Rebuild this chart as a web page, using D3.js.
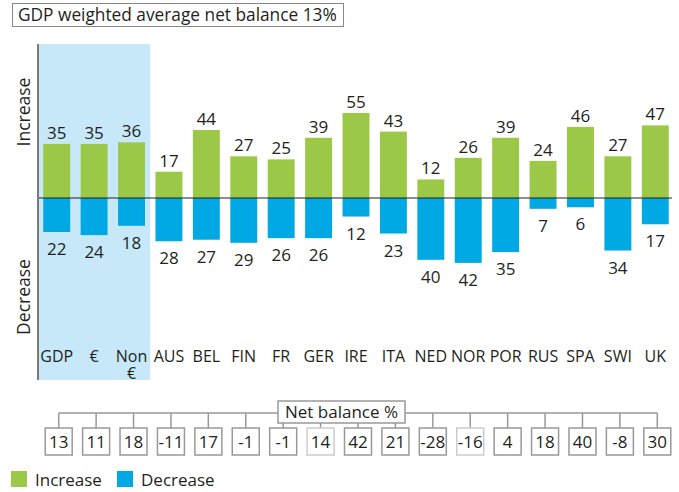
<!DOCTYPE html>
<html>
<head>
<meta charset="utf-8">
<script src="https://cdn.jsdelivr.net/npm/d3@7"></script>
<style>
  body { margin:0; background:white; }
  text { font-family: "Open Sans", sans-serif; fill:#231f20; }
</style>
</head>
<body>
<svg id="graph"></svg>
<script>
var categories = ["GDP","€","Non €","AUS","BEL","FIN","FR","GER","IRE","ITA","NED","NOR","POR","RUS","SPA","SWI","UK"];
var increase   = [35,35,36,17,44,27,25,39,55,43,12,26,39,24,46,27,47];
var decrease   = [22,24,18,28,27,29,26,26,12,23,40,42,35,7,6,34,17];
var netBalance = [13,11,18,-11,17,-1,-1,14,42,21,-28,-16,4,18,40,-8,30];
var titleText  = "GDP weighted average net balance 13%";
var shadedCategories = ["GDP","€","Non €"];

var drawChart = function(svgSelector)
{
  var screen = {width:679, height:492};
  var green = "#9bc947";
  var blue = "#00a8e4";

  var svg = d3.select(svgSelector)
              .attr("width", screen.width)
              .attr("height", screen.height);

  var xScale = d3.scaleBand()
                 .domain(categories)
                 .range([38, 674])
                 .paddingInner(0.28)
                 .paddingOuter(0.14);

  var zeroY = 198;
  var yScale = d3.scaleLinear()
                 .domain([-60, 60])
                 .range([zeroY + 60*1.545, zeroY - 60*1.545]);

  // shaded aggregate area
  var shadeStart = xScale(shadedCategories[0]) - xScale.step()*xScale.paddingOuter();
  var shadeEnd = xScale(shadedCategories[shadedCategories.length-1]) + xScale.bandwidth() + xScale.step()*xScale.paddingInner()/2;
  svg.append("rect")
     .attr("x", shadeStart)
     .attr("y", 44)
     .attr("width", shadeEnd - shadeStart)
     .attr("height", 336)
     .attr("fill", "#c6e8f8");

  // title box
  svg.append("rect")
     .attr("x", 12.5).attr("y", 3.5)
     .attr("width", 331).attr("height", 23)
     .attr("fill", "white")
     .style("stroke", "#888").style("stroke-width", 1);
  svg.append("text")
     .text(titleText)
     .attr("x", 18).attr("y", 21)
     .attr("font-size", 17.3);

  // bars
  var bars = svg.append("g").classed("bars", true);
  bars.selectAll(".inc")
      .data(increase)
      .enter()
      .append("rect")
      .attr("x", function(d,i){ return xScale(categories[i]); })
      .attr("y", function(d){ return yScale(d); })
      .attr("width", xScale.bandwidth())
      .attr("height", function(d){ return yScale(0) - yScale(d); })
      .attr("fill", green);

  bars.selectAll(".dec")
      .data(decrease)
      .enter()
      .append("rect")
      .attr("x", function(d,i){ return xScale(categories[i]); })
      .attr("y", yScale(0))
      .attr("width", xScale.bandwidth())
      .attr("height", function(d){ return yScale(-d) - yScale(0); })
      .attr("fill", blue);

  // value labels
  var labels = svg.append("g").attr("font-size", 17).attr("text-anchor", "middle");
  labels.selectAll(".incLabel")
        .data(increase)
        .enter()
        .append("text")
        .text(function(d){ return d; })
        .attr("x", function(d,i){ return xScale(categories[i]) + xScale.bandwidth()/2; })
        .attr("y", function(d){ return yScale(d) - 5; });

  labels.selectAll(".decLabel")
        .data(decrease)
        .enter()
        .append("text")
        .text(function(d){ return d; })
        .attr("x", function(d,i){ return xScale(categories[i]) + xScale.bandwidth()/2; })
        .attr("y", function(d){ return yScale(-d) + 23; });

  // zero line and y axis line
  svg.append("line")
     .attr("x1", 38).attr("x2", 672)
     .attr("y1", yScale(0)).attr("y2", yScale(0))
     .style("stroke", "#231f20").style("stroke-width", 1.2);
  svg.append("line")
     .attr("x1", 38).attr("x2", 38)
     .attr("y1", 44).attr("y2", 380)
     .style("stroke", "#7a7a7a").style("stroke-width", 2);

  // y labels
  svg.append("text")
     .text("Increase")
     .attr("text-anchor", "middle")
     .attr("font-size", 17.5)
     .attr("transform", "translate(30,112) rotate(-90)");
  svg.append("text")
     .text("Decrease")
     .attr("text-anchor", "middle")
     .attr("font-size", 17.5)
     .attr("transform", "translate(30,297) rotate(-90)");

  // category labels, split on spaces into lines
  var catLines = [];
  categories.forEach(function(c){
    c.split(" ").forEach(function(p, j){
      catLines.push({cat:c, text:p, line:j});
    });
  });
  var catLabels = svg.append("g").attr("font-size", 16).attr("text-anchor", "middle");
  catLabels.selectAll("text")
           .data(catLines)
           .enter()
           .append("text")
           .text(function(d){ return d.text; })
           .attr("x", function(d){ return xScale(d.cat) + xScale.bandwidth()/2; })
           .attr("y", function(d){ return 362 + d.line*17; });

  // net balance boxes
  var boxTop = 428, boxH = 27, lineY = 413;
  var center = function(i){ return xScale(categories[i]) + xScale.bandwidth()/2 + 2; };
  var net = svg.append("g").classed("net-balance", true);
  net.append("line")
     .attr("x1", center(0)).attr("x2", center(categories.length-1))
     .attr("y1", lineY).attr("y2", lineY)
     .style("stroke", "#999").style("stroke-width", 1.5);
  net.selectAll(".tick")
     .data(netBalance)
     .enter()
     .append("line")
     .attr("x1", function(d,i){ return center(i); })
     .attr("x2", function(d,i){ return center(i); })
     .attr("y1", lineY).attr("y2", boxTop)
     .style("stroke", "#999").style("stroke-width", 1.5);
  net.selectAll("rect")
     .data(netBalance)
     .enter()
     .append("rect")
     .attr("x", function(d,i){ return center(i) - 13.5; })
     .attr("y", boxTop)
     .attr("width", 27)
     .attr("height", boxH)
     .attr("fill", "white")
     .style("stroke", function(d,i){ return (i == 7 || i == 11) ? "#ccc" : "#999"; })
     .style("stroke-width", 1.5);
  net.selectAll("text")
     .data(netBalance)
     .enter()
     .append("text")
     .text(function(d){ return d; })
     .attr("x", function(d,i){ return center(i); })
     .attr("y", boxTop + 20)
     .attr("text-anchor", "middle")
     .attr("font-size", 17);

  // net balance label
  net.append("rect")
     .attr("x", 278).attr("y", 401)
     .attr("width", 127).attr("height", 22)
     .attr("fill", "white")
     .style("stroke", "#999").style("stroke-width", 1.5);
  net.append("text")
     .text("Net balance %")
     .attr("x", 341.5).attr("y", 418)
     .attr("text-anchor", "middle")
     .attr("font-size", 17);

  // legend
  var legendData = [{name:"Increase", color:green, x:11}, {name:"Decrease", color:blue, x:117}];
  var legend = svg.append("g").classed("legend", true);
  var items = legend.selectAll("g")
                    .data(legendData)
                    .enter()
                    .append("g");
  items.append("rect")
       .attr("x", function(d){ return d.x; })
       .attr("y", 471)
       .attr("width", 16).attr("height", 16)
       .attr("fill", function(d){ return d.color; });
  items.append("text")
       .text(function(d){ return d.name; })
       .attr("x", function(d){ return d.x + 24; })
       .attr("y", 486)
       .attr("font-size", 17);
}

drawChart("#graph");
</script>
</body>
</html>
